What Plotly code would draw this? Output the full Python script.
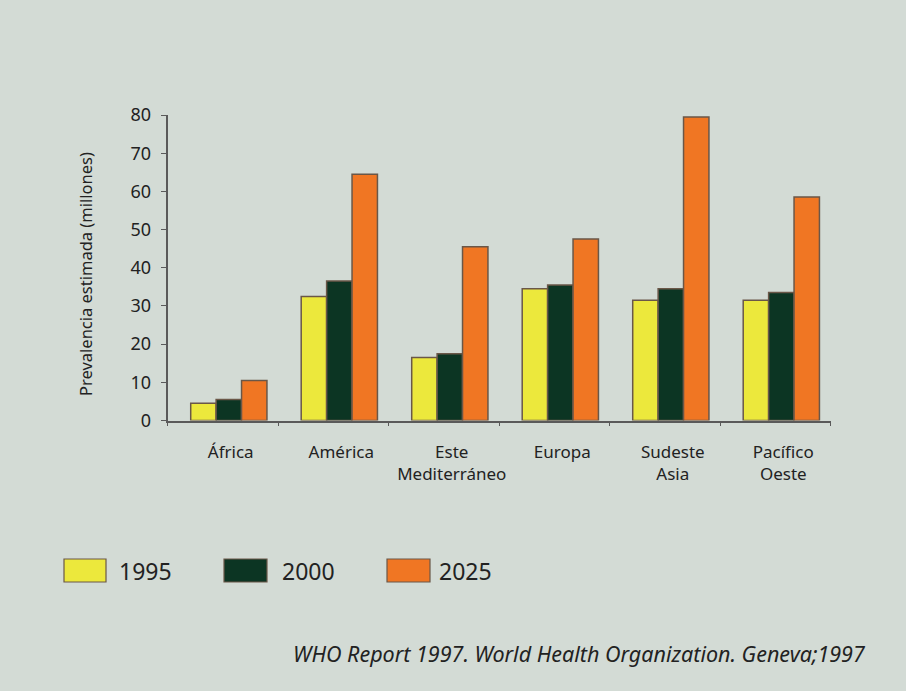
import plotly.graph_objects as go

# Estimated prevalence (millions) by WHO region
regions = ["África", "América", "Este<br>Mediterráneo", "Europa", "Sudeste<br>Asia", "Pacífico<br>Oeste"]
years = ["1995", "2000", "2025"]
v1995 = [4.5, 32.5, 16.5, 34.5, 31.5, 31.5]
v2000 = [5.5, 36.5, 17.5, 35.5, 34.5, 33.5]
v2025 = [10.5, 64.5, 45.5, 47.5, 79.5, 58.5]
y_ticks = [0, 10, 20, 30, 40, 50, 60, 70, 80]

W, H = 906, 691
BG = "#d3dbd5"
FONT = "'Noto Sans', 'Open Sans', sans-serif"
TXT = "#222222"
AX = "#5a5a5a"
colors = ["#ece83c", "#0c3523", "#f07623"]
outline = "#6a5748"

# plot area in pixels
x0, x1 = 167.5, 830.5
y_top, y_bot = 115.0, 420.5

fig = go.Figure()
series = [v1995, v2000, v2025]
offsets = [-0.29, -0.06, 0.17]
for name, vals, col, off in zip(years, series, colors, offsets):
    fig.add_trace(go.Bar(
        x=regions, y=vals, name=name,
        marker=dict(color=col, line=dict(color=outline, width=1.5)),
        width=0.23, offset=off, showlegend=False,
    ))

fig.update_layout(
    width=W, height=H,
    margin=dict(l=0, r=0, t=0, b=0),
    paper_bgcolor=BG, plot_bgcolor=BG,
    font=dict(family=FONT, color=TXT),
    barmode="group",
    xaxis=dict(
        domain=[x0 / W, x1 / W],
        type="category",
        tickson="boundaries",
        ticks="outside", ticklen=4, tickwidth=1.2, tickcolor=AX,
        showline=True, linecolor=AX, linewidth=1.5,
        showgrid=False, zeroline=False,
        tickfont=dict(size=17, color=TXT),
        tickangle=0,
        ticklabelstandoff=15,
        ticklabelshift=8,
        range=[-0.5, 5.5],
        automargin=False,
    ),
    yaxis=dict(
        domain=[1 - y_bot / H, 1 - y_top / H],
        range=[0, 80],
        tickvals=y_ticks,
        ticks="outside", ticklen=5, tickwidth=1.2, tickcolor=AX,
        showline=True, linecolor=AX, linewidth=1.5,
        showgrid=False, zeroline=False,
        tickfont=dict(size=18, color=TXT),
        ticklabelstandoff=6,
        automargin=False,
    ),
)

# y-axis title
fig.add_annotation(
    text="Prevalencia estimada (millones)",
    xref="paper", yref="paper", x=86 / W, y=1 - 274 / H,
    xanchor="center", yanchor="middle",
    textangle=-90, showarrow=False,
    font=dict(size=16.5, color=TXT, family=FONT),
)

# legend: coloured boxes with year labels
legend_boxes = [(64, 106, 117), (224, 267, 280), (387, 430, 437)]
for (bx0, bx1, tx), name, col in zip(legend_boxes, years, colors):
    fig.add_shape(
        type="rect", xref="paper", yref="paper",
        x0=bx0 / W, x1=bx1 / W, y0=1 - 582 / H, y1=1 - 559 / H,
        fillcolor=col, line=dict(color=outline, width=1.2),
    )
    fig.add_annotation(
        text=name, xref="paper", yref="paper",
        x=tx / W, y=1 - 571 / H, xanchor="left", yanchor="middle",
        showarrow=False, font=dict(size=23, color=TXT, family=FONT),
    )

# source note
fig.add_annotation(
    text="<i>WHO Report 1997. World Health Organization. Geneva;1997</i>",
    xref="paper", yref="paper", x=868 / W, y=1 - 653 / H,
    xanchor="right", yanchor="middle", showarrow=False,
    font=dict(size=21.5, color=TXT, family=FONT),
)

fig.write_html("out.html")
